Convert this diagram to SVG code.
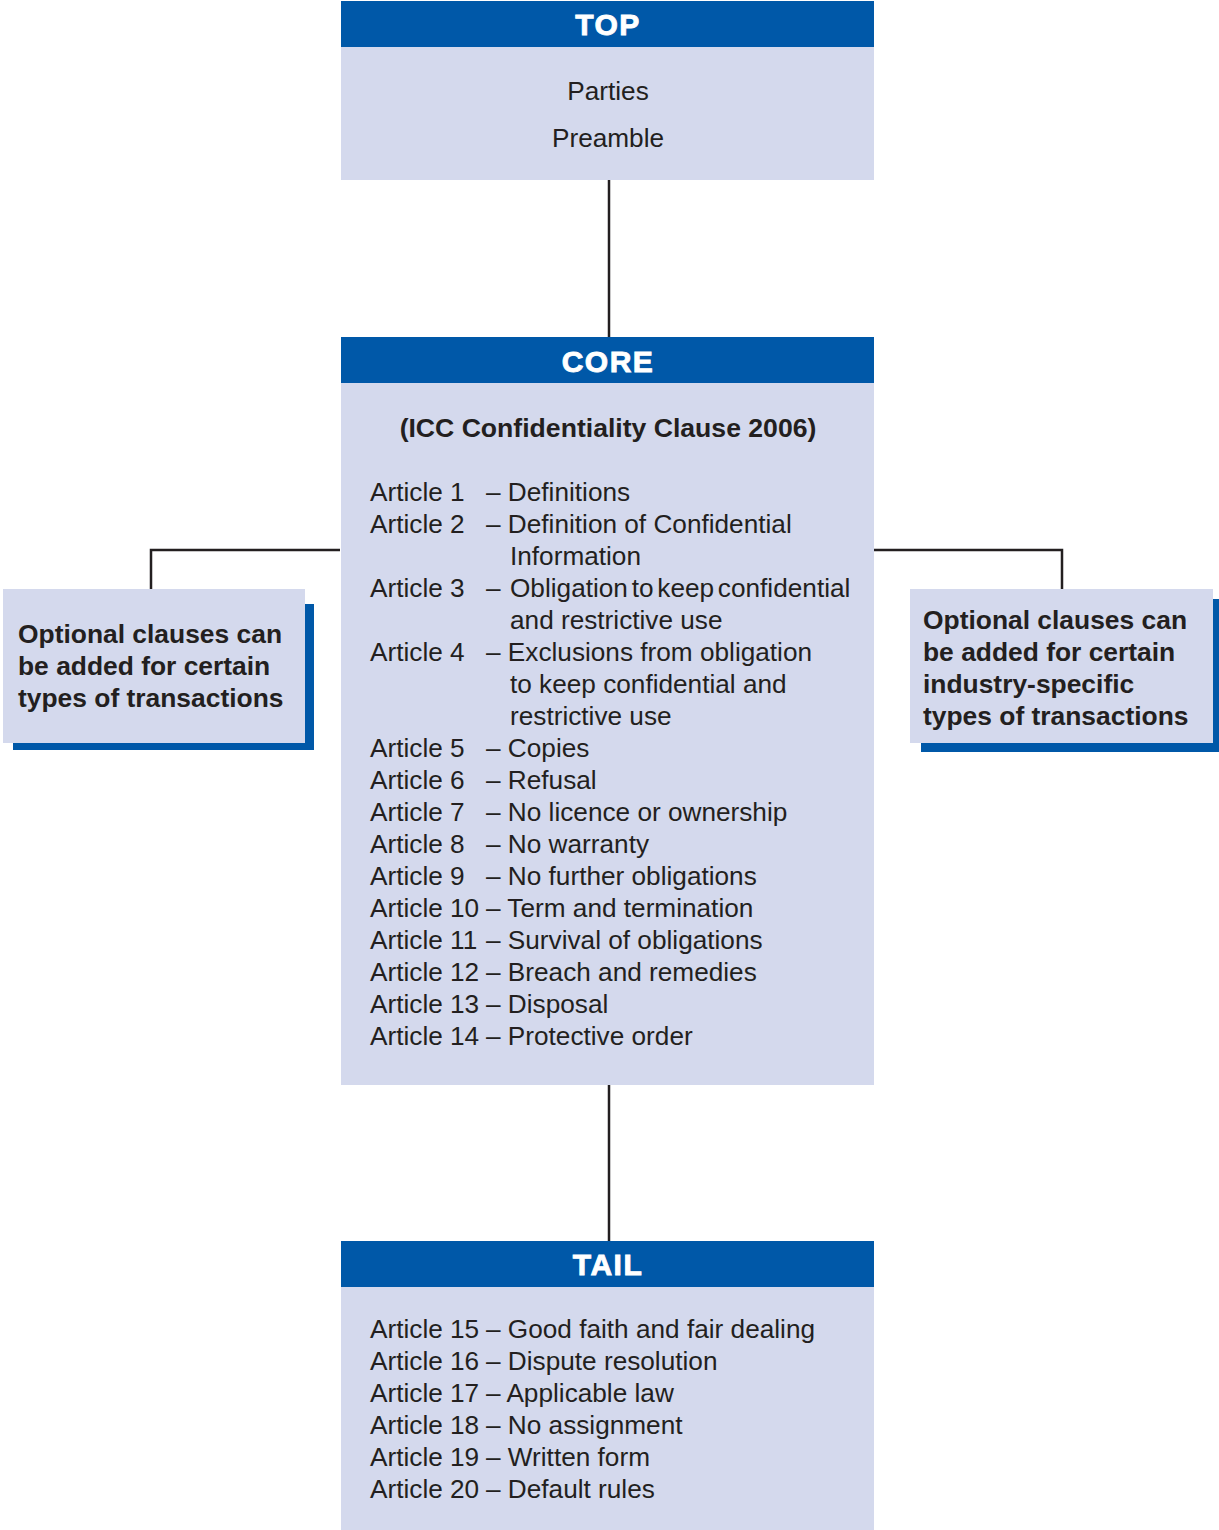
<svg xmlns="http://www.w3.org/2000/svg" width="1219" height="1530" viewBox="0 0 1219 1530">
<style>
.hdr{fill:#0058a8}
.body{fill:#d4d9ed}
.sh{fill:#0058a8}
.ttl{font-family:"Liberation Sans",Arial,sans-serif;font-weight:bold;font-size:30px;fill:#ffffff;stroke:#ffffff;stroke-width:0.9;text-anchor:middle;letter-spacing:1.5px}
.t{font-family:"Liberation Sans",Arial,sans-serif;font-size:26.2px;fill:#231f20}
.c{text-anchor:middle}
.b{font-family:"Liberation Sans",Arial,sans-serif;font-weight:bold;font-size:26.4px;fill:#231f20}
.ln{stroke:#231f20;stroke-width:2.5;fill:none}
</style>
<rect width="1219" height="1530" fill="#ffffff"/>
<g id="connectors">
<line class="ln" x1="609" y1="180" x2="609" y2="338"/>
<line class="ln" x1="609" y1="1085" x2="609" y2="1242"/>
<polyline class="ln" points="340,550 151,550 151,590"/>
<polyline class="ln" points="873,550 1062,550 1062,590"/>
</g>
<g id="top">
<rect class="body" x="341" y="1" width="533" height="179"/>
<rect class="hdr" x="341" y="1" width="533" height="46"/>
<text class="ttl" x="608" y="35">TOP</text>
<text class="t c" x="608" y="100">Parties</text>
<text class="t c" x="608" y="147">Preamble</text>
</g>
<g id="core">
<rect class="body" x="341" y="337" width="533" height="748"/>
<rect class="hdr" x="341" y="337" width="533" height="46"/>
<text class="ttl" x="608" y="372">CORE</text>
<text class="b c" x="608" y="437" style="font-size:26.6px">(ICC Confidentiality Clause 2006)</text>
<g class="t">
<text y="501"><tspan x="370">Article 1</tspan><tspan x="486">– Definitions</tspan></text>
<text y="533"><tspan x="370">Article 2</tspan><tspan x="486">– Definition of Confidential</tspan></text>
<text y="565" x="510">Information</text>
<text y="597"><tspan x="370">Article 3</tspan><tspan x="486">–</tspan><tspan x="510" style="word-spacing:-3.5px">Obligation to keep confidential</tspan></text>
<text y="629" x="510">and restrictive use</text>
<text y="661"><tspan x="370">Article 4</tspan><tspan x="486">– Exclusions from obligation</tspan></text>
<text y="693" x="510">to keep confidential and</text>
<text y="725" x="510">restrictive use</text>
<text y="757"><tspan x="370">Article 5</tspan><tspan x="486">– Copies</tspan></text>
<text y="789"><tspan x="370">Article 6</tspan><tspan x="486">– Refusal</tspan></text>
<text y="821"><tspan x="370">Article 7</tspan><tspan x="486">– No licence or ownership</tspan></text>
<text y="853"><tspan x="370">Article 8</tspan><tspan x="486">– No warranty</tspan></text>
<text y="885"><tspan x="370">Article 9</tspan><tspan x="486">– No further obligations</tspan></text>
<text y="917"><tspan x="370">Article 10</tspan><tspan x="486">– Term and termination</tspan></text>
<text y="949"><tspan x="370">Article 11</tspan><tspan x="486">– Survival of obligations</tspan></text>
<text y="981"><tspan x="370">Article 12</tspan><tspan x="486">– Breach and remedies</tspan></text>
<text y="1013"><tspan x="370">Article 13</tspan><tspan x="486">– Disposal</tspan></text>
<text y="1045"><tspan x="370">Article 14</tspan><tspan x="486">– Protective order</tspan></text>
</g>
</g>
<g id="tail">
<rect class="body" x="341" y="1241" width="533" height="289"/>
<rect class="hdr" x="341" y="1241" width="533" height="46"/>
<text class="ttl" x="608" y="1275">TAIL</text>
<g class="t">
<text y="1338"><tspan x="370">Article 15</tspan><tspan x="486">– Good faith and fair dealing</tspan></text>
<text y="1370"><tspan x="370">Article 16</tspan><tspan x="486">– Dispute resolution</tspan></text>
<text y="1402"><tspan x="370">Article 17</tspan><tspan x="486">– Applicable law</tspan></text>
<text y="1434"><tspan x="370">Article 18</tspan><tspan x="486">– No assignment</tspan></text>
<text y="1466"><tspan x="370">Article 19</tspan><tspan x="486">– Written form</tspan></text>
<text y="1498"><tspan x="370">Article 20</tspan><tspan x="486">– Default rules</tspan></text>
</g>
</g>
<g id="optional-left">
<rect class="sh" x="13" y="604" width="301" height="146"/>
<rect class="body" x="3" y="589" width="302" height="154"/>
<text class="b" x="18" y="643">Optional clauses can</text>
<text class="b" x="18" y="675">be added for  certain</text>
<text class="b" x="18" y="707">types of transactions</text>
</g>
<g id="optional-right">
<rect class="sh" x="921" y="599" width="298" height="153"/>
<rect class="body" x="910" y="589" width="303" height="154"/>
<text class="b" x="923" y="629">Optional clauses can</text>
<text class="b" x="923" y="661">be added for certain</text>
<text class="b" x="923" y="693">industry-specific</text>
<text class="b" x="923" y="725">types of transactions</text>
</g>
</svg>
